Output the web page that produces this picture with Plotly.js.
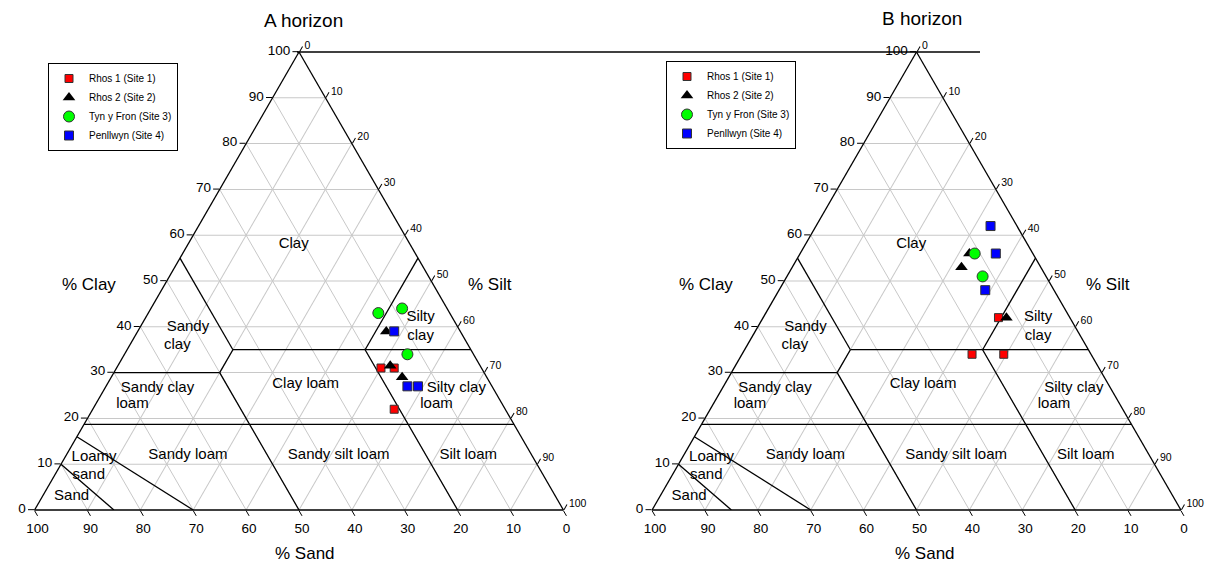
<!DOCTYPE html>
<html>
<head>
<meta charset="utf-8">
<script src="https://cdn.plot.ly/plotly-3.0.1.min.js"></script>
<style>
  html, body { margin: 0; padding: 0; background: #ffffff; }
  #chart { width: 1210px; height: 565px; }
</style>
</head>
<body>
<div id="chart"></div>
<script>
// Soil texture triangles (SSEW classes): a = % clay, b = % sand, c = % silt.

const siteNames = ['Rhos 1 (Site 1)', 'Rhos 2 (Site 2)', 'Tyn y Fron (Site 3)', 'Penllwyn (Site 4)'];

// A horizon samples, one row per site
const horizonAClay = [[31, 31, 22], [39, 31.5, 29], [43, 44, 34], [39, 27, 27]];
const horizonASand = [[19, 16.5, 21], [14, 17, 16], [13.5, 8.5, 12.5], [12.5, 16, 14]];
const horizonASilt = [[50, 52.5, 57], [47, 51.5, 55], [43.5, 47.5, 53.5], [48.5, 57, 59]];

// B horizon samples, one row per site
const horizonBClay = [[42, 34, 34], [56, 53, 42], [56, 51], [62, 56, 48]];
const horizonBSand = [[13.5, 22.5, 16.5], [12, 15, 12], [11, 12], [5, 7, 13]];
const horizonBSilt = [[44.5, 43.5, 49.5], [32, 32, 46], [33, 37], [33, 37, 39]];

// Texture class boundaries: each segment runs between two (clay, sand, silt) points
const boundaryClay = [[35, 35], [55, 35], [55, 35], [35, 30], [30, 30], [30, 0], [35, 0], [18.7, 18.7], [16, 0], [10, 0]];
const boundarySand = [[45, 0], [45, 45], [0, 20], [45, 50], [70, 50], [50, 50], [20, 20], [81.3, 0], [84, 70], [90, 85]];
const boundarySilt = [[20, 65], [0, 20], [45, 45], [20, 20], [0, 20], [20, 50], [45, 80], [0, 81.3], [0, 30], [0, 15]];

// Texture class names, one entry per text line
const classText = ['Clay', 'Sandy', 'clay', 'Sandy clay', 'loam', 'Clay loam', 'Silty', 'clay',
                   'Silty clay', 'loam', 'Sandy loam', 'Sandy silt loam', 'Silt loam', 'Loamy', 'sand', 'Sand'];
// where each class name sits inside the triangle (clay, sand, silt)
const classAtClay = [58, 40, 36, 26.5, 23, 27.5, 42, 38, 26.5, 23, 12, 12, 12, 11.5, 7.5, 3];
const classAtSand = [22, 51, 55, 63.5, 70, 35, 6, 8, 7, 12.5, 65, 36.5, 12, 83, 86, 91.5];
const classAtSilt = [20, 9, 9, 10, 7, 37.5, 52, 54, 66.5, 64.5, 23, 51.5, 76, 5.5, 6.5, 5.5];

// ---- styling ----
const FONT = 'Arial, "Liberation Sans", sans-serif';
const siteMarkers = [
  { symbol: 'square', color: '#ff0000', size: 8, line: { color: '#333333', width: 1 } },
  { symbol: 'triangle-up', color: '#000000', size: 11, line: { color: '#000000', width: 0 } },
  { symbol: 'circle', color: '#00ff00', size: 11, line: { color: '#333333', width: 1 } },
  { symbol: 'square', color: '#0000ff', size: 9, line: { color: '#333333', width: 1 } }
];

function axisStyle(tickSize) {
  return {
    min: 0,
    tickmode: 'linear', tick0: 0, dtick: 10,
    ticks: 'outside', ticklen: 6, tickwidth: 1, tickcolor: '#000000',
    showline: true, linecolor: '#000000', linewidth: 1.3,
    showgrid: true, gridcolor: '#c8c8c8', gridwidth: 1,
    tickfont: { family: FONT, size: tickSize, color: '#000000' },
    title: { text: '' }
  };
}

function ternaryLayout(xCenter) {
  const W = 1210, H = 565;
  const apexY = 52, baseY = 510;
  const hPx = baseY - apexY;
  const yc = 1 - (apexY + baseY) / 2 / H;
  const yh = hPx / H / 2;
  const xh = 560 / W / 2;
  const xc = xCenter / W;
  return {
    domain: { x: [xc - xh, xc + xh], y: [yc - yh, yc + yh] },
    sum: 100,
    bgcolor: 'rgba(0,0,0,0)',
    aaxis: axisStyle(13.5),
    baxis: axisStyle(13.5),
    caxis: axisStyle(10.5)
  };
}

const traces = [];

function addTriangle(subplot, legendId, clay, sand, silt) {
  // class boundaries
  for (let i = 0; i < boundaryClay.length; i++) {
    traces.push({
      type: 'scatterternary', subplot: subplot, mode: 'lines',
      a: boundaryClay[i], b: boundarySand[i], c: boundarySilt[i],
      line: { color: '#000000', width: 1.3 },
      showlegend: false, hoverinfo: 'skip'
    });
  }
  // class names
  traces.push({
    type: 'scatterternary', subplot: subplot, mode: 'text',
    a: classAtClay, b: classAtSand, c: classAtSilt,
    text: classText, textposition: 'middle center',
    textfont: { family: FONT, size: 15, color: '#000000' },
    showlegend: false, hoverinfo: 'skip', cliponaxis: false
  });
  // samples
  for (let s = 0; s < siteNames.length; s++) {
    const m = siteMarkers[s];
    traces.push({
      type: 'scatterternary', subplot: subplot, mode: 'markers',
      name: siteNames[s], legend: legendId,
      a: clay[s], b: sand[s], c: silt[s],
      marker: { symbol: m.symbol, color: m.color, size: m.size, line: m.line },
      hoverinfo: 'a+b+c+name', cliponaxis: false
    });
  }
}

addTriangle('ternary', 'legend', horizonAClay, horizonASand, horizonASilt);
addTriangle('ternary2', 'legend2', horizonBClay, horizonBSand, horizonBSilt);

function label(text, x, y, size) {
  return {
    text: text, xref: 'paper', yref: 'paper',
    x: x / 1210, y: 1 - y / 565, xanchor: 'center', yanchor: 'middle',
    showarrow: false, font: { family: FONT, size: size, color: '#000000' }
  };
}

function legendBox(x, y) {
  return {
    x: x / 1210, y: 1 - y / 565, xanchor: 'left', yanchor: 'top',
    bgcolor: '#ffffff', bordercolor: '#000000', borderwidth: 1,
    font: { family: FONT, size: 10, color: '#000000' },
    tracegroupgap: 0,
    entrywidth: 96, entrywidthmode: 'pixels'
  };
}

const layout = {
  width: 1210, height: 565,
  margin: { l: 0, r: 0, t: 0, b: 0, pad: 0 },
  paper_bgcolor: '#ffffff',
  font: { family: FONT, color: '#000000' },
  showlegend: true,
  ternary: ternaryLayout(299),
  ternary2: ternaryLayout(916.5),
  legend: legendBox(48, 63),
  legend2: legendBox(666, 61),
  annotations: [
    label('A horizon', 303, 20, 19),
    label('B horizon', 922, 18, 19),
    label('% Clay', 89, 284, 17),
    label('% Silt', 490, 284, 17),
    label('% Sand', 305, 553, 17),
    label('% Clay', 706, 284, 17),
    label('% Silt', 1108, 284, 17),
    label('% Sand', 925, 553, 17)
  ],
  shapes: [{
    type: 'line', xref: 'paper', yref: 'paper',
    x0: 297 / 1210, x1: 980 / 1210, y0: 1 - 52 / 565, y1: 1 - 52 / 565,
    line: { color: '#000000', width: 1.3 }
  }]
};

Plotly.newPlot('chart', traces, layout, { staticPlot: true, displayModeBar: false });
</script>
</body>
</html>
